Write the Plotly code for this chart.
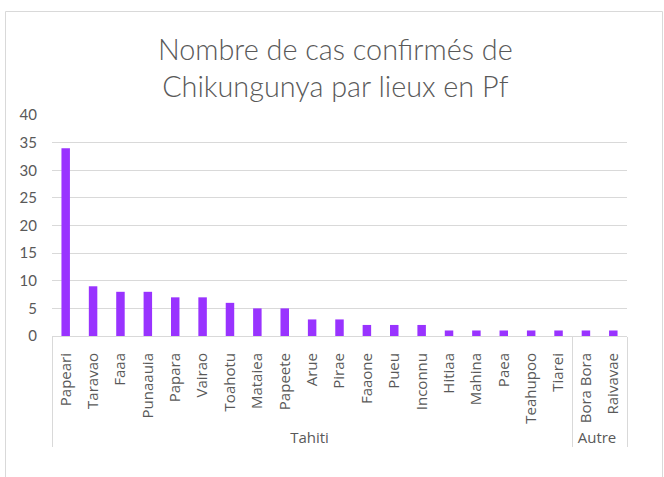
import plotly.graph_objects as go

groups = ["Tahiti"] * 19 + ["Autre"] * 2
places = ["Papeari", "Taravao", "Faaa", "Punaauia", "Papara", "Vairao", "Toahotu",
          "Mataiea", "Papeete", "Arue", "Pirae", "Faaone", "Pueu", "Inconnu",
          "Hitiaa", "Mahina", "Paea", "Teahupoo", "Tiarei", "Bora Bora", "Raivavae"]
cases = [34, 9, 8, 8, 7, 7, 6, 5, 5, 3, 3, 2, 2, 2, 1, 1, 1, 1, 1, 1, 1]
y_ticks = [0, 5, 10, 15, 20, 25, 30, 35, 40]

fig = go.Figure(go.Bar(
    x=[groups, places], y=cases,
    marker=dict(color="#9933FF", line=dict(width=0)),
))

W, H = 664, 477
L, R, T, B = 52, 37, 115, 141

fig.update_layout(
    width=W, height=H,
    margin=dict(l=L, r=R, t=T, b=B, pad=0, autoexpand=False),
    paper_bgcolor="white", plot_bgcolor="white",
    bargap=0.69,
    showlegend=False,
    title=dict(
        text="Nombre de cas confirmés de<br>Chikungunya par lieux en Pf",
        font=dict(family="Lato", size=28.8, color="#595959", weight=300),
        x=0.505, xanchor="center", xref="container",
        y=1 - 60 / H, yanchor="middle", yref="container",
    ),
    xaxis=dict(
        type="multicategory",
        tickangle=-90,
        tickfont=dict(family="Open Sans", size=15, color="#595959"),
        showline=True, linecolor="#d9d9d9", linewidth=1,
        showdividers=True, dividercolor="#d9d9d9", dividerwidth=1,
        ticks="", showgrid=False, automargin=False,
        ticklabelstandoff=10,
    ),
    yaxis=dict(
        range=[0, 40], tickvals=y_ticks,
        tickfont=dict(family="Lato", size=15, color="#595959"),
        showgrid=True, gridcolor="#d9d9d9", gridwidth=1,
        zeroline=False, showline=False, ticks="",
        ticklabelstandoff=14, automargin=False,
    ),
    shapes=[dict(
        type="rect", xref="paper", yref="paper",
        x0=(5.5 - L) / (W - L - R), x1=(662.5 - L) / (W - L - R),
        y0=-0.8, y1=(H - B - 11.5) / (H - T - B),
        line=dict(color="#d9d9d9", width=1), layer="below",
    )],
)

fig.write_html("out.html", config={"displayModeBar": False},
               post_script="document.body.style.margin='0';document.body.style.padding='0';")
